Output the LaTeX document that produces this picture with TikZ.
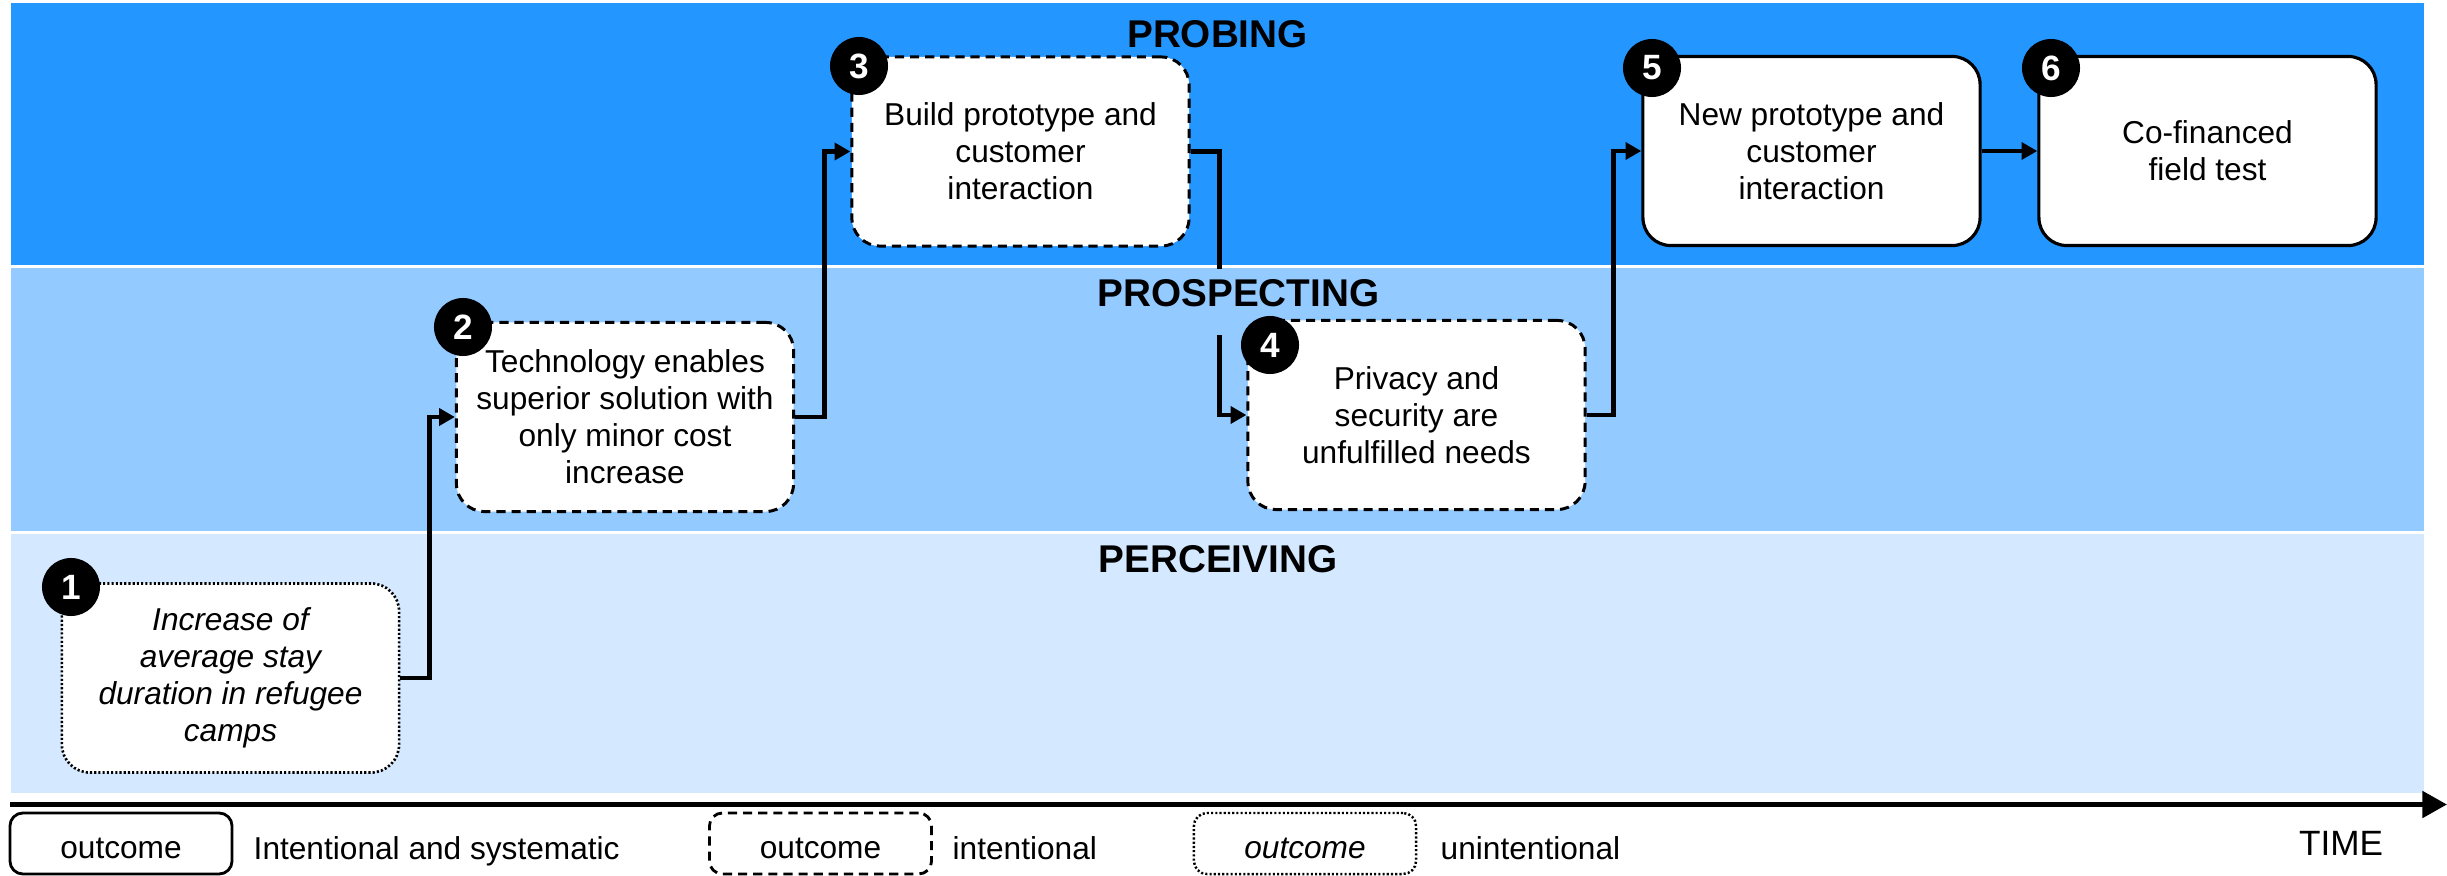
\documentclass[tikz,border=0pt]{standalone}
\usepackage{fontspec}
\setmainfont{Liberation Sans}
\usetikzlibrary{arrows.meta}
\pgfdeclarelayer{bg}
\pgfdeclarelayer{cn}
\pgfdeclarelayer{tl}
\pgfsetlayers{bg,cn,tl,main}
\definecolor{bandA}{RGB}{36,150,255}
\definecolor{bandB}{RGB}{147,202,255}
\definecolor{bandC}{RGB}{212,233,255}
\tikzset{
  boxbase/.style={draw=black, fill=white, rounded corners=0.28cm, align=center,
    minimum width=3.37cm, minimum height=1.89cm, inner sep=0pt,
    font=\fontsize{9}{10.5}\selectfont},
  solidbox/.style={boxbase, line width=0.9pt},
  dashbox/.style={boxbase, line width=0.85pt, dash pattern=on 2.6pt off 1.7pt},
  dotbox/.style={boxbase, line width=0.75pt, dash pattern=on 0.6pt off 0.6pt},
  num/.style={circle, fill=black, text=white, minimum size=0.58cm, inner sep=0pt,
    font=\bfseries\fontsize{10}{12}\selectfont},
  conn/.style={line width=1.4pt, -{Triangle[length=4.5pt,width=4.8pt]}},
  axisline/.style={line width=1.42pt, -{Triangle[length=7pt,width=7.4pt]}},
  ttl/.style={font=\bfseries\fontsize{11}{13}\selectfont, inner sep=0pt,
    text height=0.38cm, text depth=0.28cm, anchor=base},
  legbox/.style={draw=black, fill=white, rounded corners=0.13cm, minimum width=2.22cm,
    minimum height=0.61cm, inner sep=0pt, text height=8.8pt, text depth=0pt,
    font=\fontsize{9}{11}\selectfont},
  legtxt/.style={anchor=base west, inner sep=0pt, font=\fontsize{9}{11}\selectfont},
}
\begin{document}
\begin{tikzpicture}[x=0.01cm, y=-0.01cm]
\useasboundingbox (0,0) rectangle (2447,876);
\begin{pgfonlayer}{bg}
  \fill[bandA] (11,3) rectangle (2424,265);
  \fill[bandB] (11,268.5) rectangle (2424,530.5);
  \fill[bandC] (11,533.5) rectangle (2424,793);
\end{pgfonlayer}

% outcome boxes
\node[dotbox, font=\itshape\fontsize{9}{10.5}\selectfont] (b1) at (230.5,678)
  {Increase of\\average stay\\duration in refugee\\camps};
\node[dashbox] (b2) at (625,417) {Technology enables\\superior solution with\\only minor cost\\increase};
\node[dashbox] (b3) at (1020.5,151.5) {Build prototype and\\customer\\interaction};
\node[dashbox] (b4) at (1416.5,415) {Privacy and\\security are\\unfulfilled needs};
\node[solidbox] (b5) at (1811.5,151) {New prototype and\\customer\\interaction};
\node[solidbox] (b6) at (2207.5,151) {Co-financed\\field test};

% number badges
\node[num] (n1) at (71,587) {1};
\node[num] (n2) at (463,327) {2};
\node[num] (n3) at (859,66) {3};
\node[num] (n4) at (1270,345) {4};
\node[num] (n5) at (1652,68) {5};
\node[num] (n6) at (2051,68) {6};

% band titles
\begin{pgfonlayer}{tl}
  \node[ttl, fill=bandA] (t1) at (1217.5,48) {PROBING};
  \node[ttl, fill=bandB] (t2) at (1238.5,307) {PROSPECTING};
  \node[ttl, fill=bandC] (t3) at (1218,573) {PERCEIVING};
\end{pgfonlayer}

% connectors
\begin{pgfonlayer}{cn}
  \draw[conn] (b1.east) -- ++(29,0) |- (b2.west);
  \draw[conn] (b2.east) -- ++(29,0) |- (b3.west);
  \draw[conn] (b3.east) -- ++(29,0) |- (b4.west);
  \draw[conn] (b4.east) -- ++(27,0) |- (b5.west);
  \draw[conn] (b5.east) -- (b6.west);
\end{pgfonlayer}

% time axis
\coordinate (ax0) at (10,804.5);
\coordinate (ax1) at (2447,804.5);
\draw[axisline] (ax0) -- (ax1);
\node[anchor=base, inner sep=0pt, font=\fontsize{10}{12}\selectfont] (time) at (2341,855) {TIME};

% legend
\node[legbox, line width=0.8pt] (la) at (121,843.5) {outcome};
\node[legtxt] (lta) at (253,859) {Intentional and systematic};
\node[legbox, line width=0.8pt, dash pattern=on 2.6pt off 1.7pt] (lb) at (820.5,843.5) {outcome};
\node[legtxt] (ltb) at (952,859) {intentional};
\node[legbox, line width=0.7pt, dash pattern=on 0.6pt off 0.6pt, font=\itshape\fontsize{9}{11}\selectfont] (lc) at (1305,843.5) {outcome};
\node[legtxt] (ltc) at (1440,859) {unintentional};
\end{tikzpicture}
\end{document}
